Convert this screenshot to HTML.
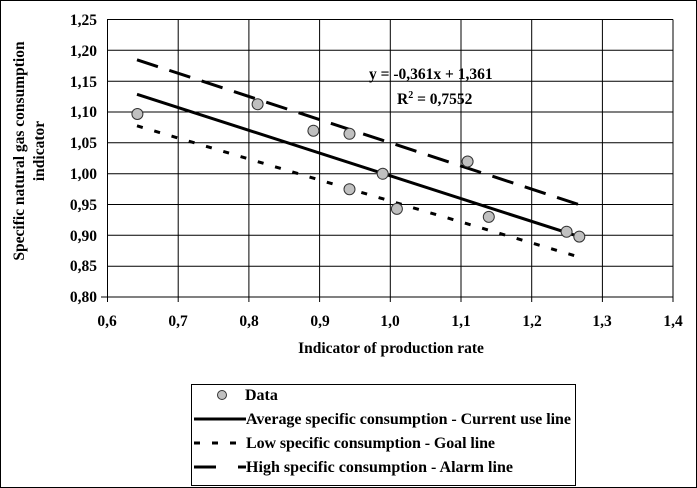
<!DOCTYPE html><html><head><style>body{margin:0;background:#fff}svg{display:block}text{font-family:"Liberation Serif",serif;font-weight:bold;fill:#000}</style></head><body>
<svg width="697" height="488" viewBox="0 0 697 488">
<rect x="0.5" y="0.5" width="696" height="487" fill="#fff" stroke="#000"/>
<g stroke="#000" stroke-width="1">
<line x1="107" y1="19.5" x2="673" y2="19.5"/><line x1="107" y1="50.3" x2="673" y2="50.3"/><line x1="107" y1="81.2" x2="673" y2="81.2"/><line x1="107" y1="112" x2="673" y2="112"/><line x1="107" y1="142.8" x2="673" y2="142.8"/><line x1="107" y1="173.7" x2="673" y2="173.7"/><line x1="107" y1="204.5" x2="673" y2="204.5"/><line x1="107" y1="235.3" x2="673" y2="235.3"/><line x1="107" y1="266.2" x2="673" y2="266.2"/><line x1="101" y1="297" x2="673" y2="297"/>
<line x1="107.5" y1="19.5" x2="107.5" y2="302"/><line x1="178.2" y1="19.5" x2="178.2" y2="302"/><line x1="248.9" y1="19.5" x2="248.9" y2="302"/><line x1="319.6" y1="19.5" x2="319.6" y2="302"/><line x1="390.3" y1="19.5" x2="390.3" y2="302"/><line x1="461" y1="19.5" x2="461" y2="302"/><line x1="531.7" y1="19.5" x2="531.7" y2="302"/><line x1="602.4" y1="19.5" x2="602.4" y2="302"/><line x1="673" y1="19.5" x2="673" y2="302"/>
</g>
<g font-size="15.5" text-anchor="end">
<text x="97" y="25">1,25</text><text x="97" y="56">1,20</text><text x="97" y="87">1,15</text><text x="97" y="117">1,10</text><text x="97" y="148">1,05</text><text x="97" y="179">1,00</text><text x="97" y="210">0,95</text><text x="97" y="241">0,90</text><text x="97" y="271">0,85</text><text x="97" y="302">0,80</text>
</g>
<g font-size="15.5" text-anchor="middle">
<text x="107" y="326">0,6</text><text x="178" y="326">0,7</text><text x="249" y="326">0,8</text><text x="320" y="326">0,9</text><text x="390" y="326">1,0</text><text x="461" y="326">1,1</text><text x="532" y="326">1,2</text><text x="602" y="326">1,3</text><text x="673" y="326">1,4</text>
<text x="391" y="353">Indicator of production rate</text>
<text transform="translate(24,151) rotate(-90)">Specific natural gas consumption</text>
<text transform="translate(44,151) rotate(-90)">indicator</text>
</g>
<text x="369" y="79" font-size="15.5">y = -0,361x + 1,361</text>
<text x="397" y="104" font-size="15.5">R<tspan font-size="10" dy="-6">2</tspan><tspan dy="6"> = 0,7552</tspan></text>
<line x1="137" y1="59.8" x2="579" y2="204.6" stroke="#000" stroke-width="3" stroke-dasharray="22,12"/>
<line x1="137" y1="94.3" x2="579" y2="236.6" stroke="#000" stroke-width="3"/>
<line x1="137" y1="125.8" x2="579" y2="257" stroke="#000" stroke-width="3" stroke-dasharray="6,12"/>
<g fill="#c0c0c0" stroke="#333" stroke-width="1">
<circle cx="137.4" cy="114" r="5.5"/><circle cx="257.6" cy="104.2" r="5.5"/><circle cx="313.4" cy="130.7" r="5.5"/><circle cx="349.5" cy="133.8" r="5.5"/><circle cx="349.5" cy="189.2" r="5.5"/><circle cx="382.7" cy="173.8" r="5.5"/><circle cx="396.9" cy="208.9" r="5.5"/><circle cx="467.6" cy="161.5" r="5.5"/><circle cx="488.8" cy="216.9" r="5.5"/><circle cx="566.6" cy="231.7" r="5.5"/><circle cx="579.3" cy="236.6" r="5.5"/>
</g>
<rect x="191.5" y="384.5" width="384" height="101" fill="#fff" stroke="#000"/>
<circle cx="222" cy="395" r="4.5" fill="#c0c0c0" stroke="#333"/>
<line x1="194" y1="419" x2="246" y2="419" stroke="#000" stroke-width="3"/>
<line x1="194" y1="443" x2="246" y2="443" stroke="#000" stroke-width="3" stroke-dasharray="6,12"/>
<line x1="194" y1="467" x2="246" y2="467" stroke="#000" stroke-width="3" stroke-dasharray="22,22"/>
<g font-size="16">
<text x="245" y="400">Data</text>
<text x="246" y="424" textLength="325" lengthAdjust="spacing">Average specific consumption - Current use line</text>
<text x="246" y="448" textLength="249" lengthAdjust="spacing">Low specific consumption - Goal line</text>
<text x="246" y="472" textLength="267" lengthAdjust="spacing">High specific consumption - Alarm line</text>
</g>
</svg></body></html>
